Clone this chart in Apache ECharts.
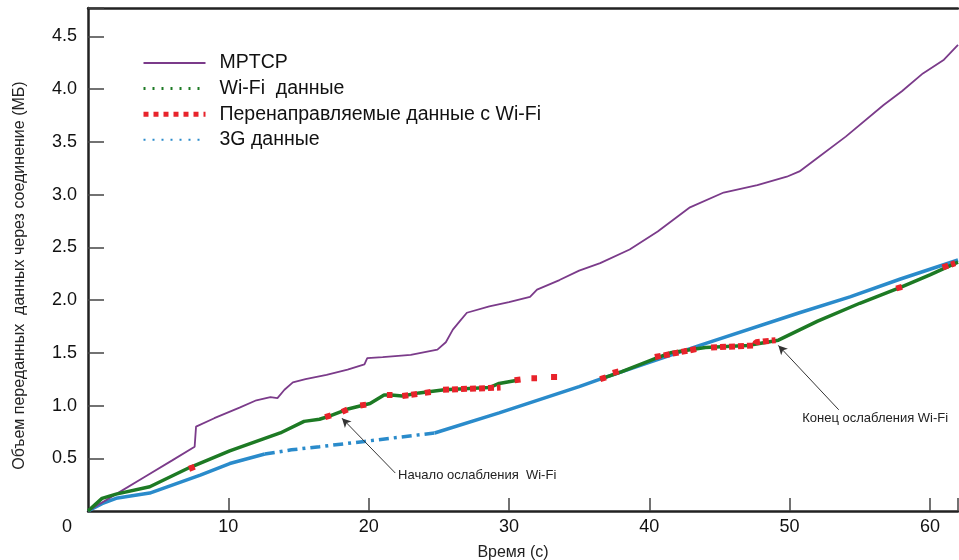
<!DOCTYPE html>
<html>
<head>
<meta charset="utf-8">
<script src="https://cdn.jsdelivr.net/npm/echarts@6/dist/echarts.min.js"></script>
<style>
  html, body { margin: 0; padding: 0; background: #fff; }
  #chart { width: 959px; height: 560px; }
</style>
</head>
<body>
<div id="chart"></div>
<script>
// values: [время, МБ]
var mptcpData = [
  [0, 0], [2, 0.16], [4, 0.32], [6, 0.48], [7.6, 0.61], [7.7, 0.80], [9, 0.88],
  [10.8, 0.98], [12, 1.05], [13, 1.08], [13.5, 1.07], [14, 1.15], [14.6, 1.22],
  [15.5, 1.25], [17, 1.29], [18.5, 1.34], [19.7, 1.39], [19.9, 1.45], [21, 1.46],
  [23, 1.48], [24.9, 1.53], [25.5, 1.60], [26, 1.72], [26.5, 1.80], [27, 1.88],
  [28.6, 1.94], [30, 1.98], [31.5, 2.03], [32, 2.10], [33.6, 2.19], [35, 2.28],
  [36.5, 2.35], [38.6, 2.48], [40.6, 2.65], [42.9, 2.88], [45.3, 3.02],
  [47.7, 3.09], [49.8, 3.17], [50.7, 3.22], [52, 3.35], [54, 3.55], [56.7, 3.85],
  [58, 3.98], [59.5, 4.15], [61, 4.28], [62, 4.42]
];

var wifiData = [
  [0, 0], [1, 0.12], [2, 0.16], [4.4, 0.23], [7.2, 0.41], [10.1, 0.57],
  [13.7, 0.74], [15.4, 0.85], [16.5, 0.87], [17.2, 0.90], [18.6, 0.97],
  [20.1, 1.02], [21.1, 1.10], [21.6, 1.10], [22.4, 1.09], [23.6, 1.12],
  [25.4, 1.15], [28.6, 1.17], [29.3, 1.21], [30.6, 1.24], [31, null],
  [36.5, 1.25], [38, 1.32], [40.5, 1.45], [41.5, 1.50], [44, 1.55], [47, 1.57],
  [49.2, 1.62], [52, 1.80], [55, 1.97], [57.9, 2.12], [60, 2.24], [62, 2.36]
];

var redirectData = [
  [7.2, 0.40], [7.8, 0.43], [8, null],
  [16.9, 0.89], [17.4, 0.91], [17.6, null],
  [18.1, 0.94], [18.6, 0.97], [18.8, null],
  [19.4, 1.00], [19.9, 1.01], [20.2, null],
  [21.3, 1.10], [21.7, 1.10], [22, null],
  [22.4, 1.09], [23.5, 1.11], [23.8, null],
  [24.0, 1.12], [24.5, 1.13], [24.8, null],
  [25.3, 1.15], [29.4, 1.17], [29.8, null],
  [30.4, 1.24], [31.0, 1.25], [31.3, null],
  [31.6, 1.26], [32.0, 1.26], [32.5, null],
  [33.0, 1.27], [33.6, 1.27], [34, null],
  [36.5, 1.25], [37.0, 1.27], [37.2, null],
  [37.4, 1.31], [38.0, 1.33], [38.5, null],
  [40.4, 1.46], [43.5, 1.54], [43.9, null],
  [44.4, 1.55], [47.5, 1.57], [47.6, 1.60], [49.0, 1.62], [49.3, null],
  [57.6, 2.11], [58.1, 2.13], [58.3, null],
  [60.9, 2.31], [61.8, 2.35]
];

var g3SolidData = [
  [0, 0], [1, 0.07], [2, 0.12], [4.4, 0.17], [8, 0.34], [10.1, 0.45],
  [12.6, 0.54], [13, null],
  [24.7, 0.74], [29.3, 0.93], [35, 1.18], [36.5, 1.25], [40, 1.41],
  [43.6, 1.57], [50.7, 1.88], [54.3, 2.03], [57.9, 2.20], [62, 2.38]
];

var g3DashData = [
  [12.6, 0.54], [14.5, 0.58], [16.5, 0.61], [19.7, 0.66], [22.2, 0.70], [24.7, 0.74]
];

var yTicks = [0.5, 1.0, 1.5, 2.0, 2.5, 3.0, 3.5, 4.0, 4.5];
var xTicks = [10, 20, 30, 40, 50, 60];

var seriesNames = ["MPTCP", "Wi-Fi  данные", "Перенаправляемые данные с Wi-Fi", "3G данные"];
var seriesColors = ["#7b3b8a", "#1d7a24", "#e8232b", "#2a8bcb"];

// подписи-стрелки: хвост, острие, начало текста
var noteStart = { tail: [21.9, 0.36], head: [18.1, 0.88], text: [22.1, 0.34], label: "Начало ослабления  Wi-Fi" };
var noteEnd = { tail: [53.5, 0.96], head: [49.2, 1.57], text: [50.9, 0.88], label: "Конец ослабления Wi-Fi" };

var font = "Liberation Sans, Arial, sans-serif";
var chart = echarts.init(document.getElementById("chart"));

function noteMarks(n) {
  return {
    markLine: {
      silent: true,
      animation: false,
      symbol: ["none", "arrow"],
      symbolSize: [7, 9],
      lineStyle: { color: "#333", width: 1, type: "solid" },
      label: { show: false },
      data: [[{ coord: n.tail }, { coord: n.head }]]
    },
    markPoint: {
      silent: true,
      animation: false,
      symbol: "circle",
      symbolSize: 0,
      label: {
        show: true,
        position: "right",
        distance: 0,
        formatter: n.label,
        color: "#222",
        fontFamily: font,
        fontSize: 13
      },
      data: [{ coord: n.text }]
    }
  };
}

var options = {
  animation: false,
  color: seriesColors,
  textStyle: { fontFamily: font },
  legend: {
    orient: "vertical",
    left: 136,
    top: 48,
    itemWidth: 62,
    itemHeight: 14,
    itemGap: 5.6,
    textStyle: { fontSize: 19.5, lineHeight: 20, color: "#111", fontFamily: font, padding: [0, 0, 0, 9] },
    data: [
      { name: seriesNames[0], itemStyle: { opacity: 0 }, lineStyle: { width: 2, type: "solid" } },
      { name: seriesNames[1], itemStyle: { opacity: 0 }, lineStyle: { width: 3, type: [2, 7] } },
      { name: seriesNames[2], itemStyle: { opacity: 0 }, lineStyle: { width: 5, type: [5, 5] } },
      { name: seriesNames[3], itemStyle: { opacity: 0 }, lineStyle: { width: 2, type: [2, 7] } }
    ]
  },
  grid: { left: 88, right: 1, top: 8, bottom: 49, outerBoundsMode: "none" },
  xAxis: [
    {
      type: "value",
      min: 0,
      max: 62,
      interval: 10,
      name: "Время (с)",
      nameLocation: "middle",
      nameGap: 34,
      nameTextStyle: { fontSize: 16, color: "#222", padding: [0, 20, 0, 0] },
      axisLine: { lineStyle: { color: "#222", width: 2.5 } },
      axisTick: { inside: true, length: 13, lineStyle: { color: "#444", width: 1.5 } },
      axisLabel: {
        showMinLabel: false,
        margin: 7,
        fontSize: 18,
        color: "#111",
        formatter: function (v) { return xTicks.indexOf(v) >= 0 ? String(v) : ""; }
      },
      splitLine: { show: false }
    },
    {
      type: "value",
      position: "top",
      min: 0,
      max: 62,
      axisLine: { show: true, lineStyle: { color: "#222", width: 2.5 } },
      axisTick: { show: false },
      axisLabel: { show: false },
      splitLine: { show: false }
    }
  ],
  yAxis: {
    type: "value",
    min: 0,
    max: 4.77,
    interval: 0.5,
    name: "Объем переданных  данных через соединение (МБ)",
    nameLocation: "middle",
    nameGap: 60,
    nameTextStyle: { fontSize: 16, color: "#222", padding: [0, 32, 0, 0] },
    axisLine: { show: true, lineStyle: { color: "#222", width: 2.5 } },
    axisTick: { inside: true, length: 16, lineStyle: { color: "#444", width: 1.5 } },
    axisLabel: {
      showMinLabel: false,
      margin: 11,
      fontSize: 18,
      color: "#111",
      formatter: function (v) { return yTicks.indexOf(v) >= 0 ? v.toFixed(1) : ""; }
    },
    splitLine: { show: false }
  },
  graphic: [
    { type: "text", left: 62, top: 518, style: { text: "0", fontSize: 18, fill: "#111", fontFamily: font } }
  ],
  series: [
    {
      name: seriesNames[0],
      type: "line",
      data: mptcpData,
      showSymbol: false,
      symbol: "none",
      z: 3,
      lineStyle: { color: seriesColors[0], width: 1.8 }
    },
    Object.assign({
      name: seriesNames[3],
      type: "line",
      data: g3SolidData,
      showSymbol: false,
      symbol: "none",
      connectNulls: false,
      z: 2,
      lineStyle: { color: seriesColors[3], width: 3.5 }
    }, noteMarks(noteEnd)),
    {
      name: seriesNames[3],
      type: "line",
      data: g3DashData,
      showSymbol: false,
      symbol: "none",
      z: 2,
      lineStyle: { color: seriesColors[3], width: 3.5, type: [10, 5, 3, 5] }
    },
    Object.assign({
      name: seriesNames[1],
      type: "line",
      data: wifiData,
      showSymbol: false,
      symbol: "none",
      connectNulls: false,
      z: 4,
      lineStyle: { color: seriesColors[1], width: 3.5 }
    }, noteMarks(noteStart)),
    {
      name: seriesNames[2],
      type: "line",
      data: redirectData,
      showSymbol: false,
      symbol: "none",
      connectNulls: false,
      z: 5,
      lineStyle: { color: seriesColors[2], width: 6, type: [6, 3] }
    }
  ]
};

chart.setOption(options);
</script>
</body>
</html>
